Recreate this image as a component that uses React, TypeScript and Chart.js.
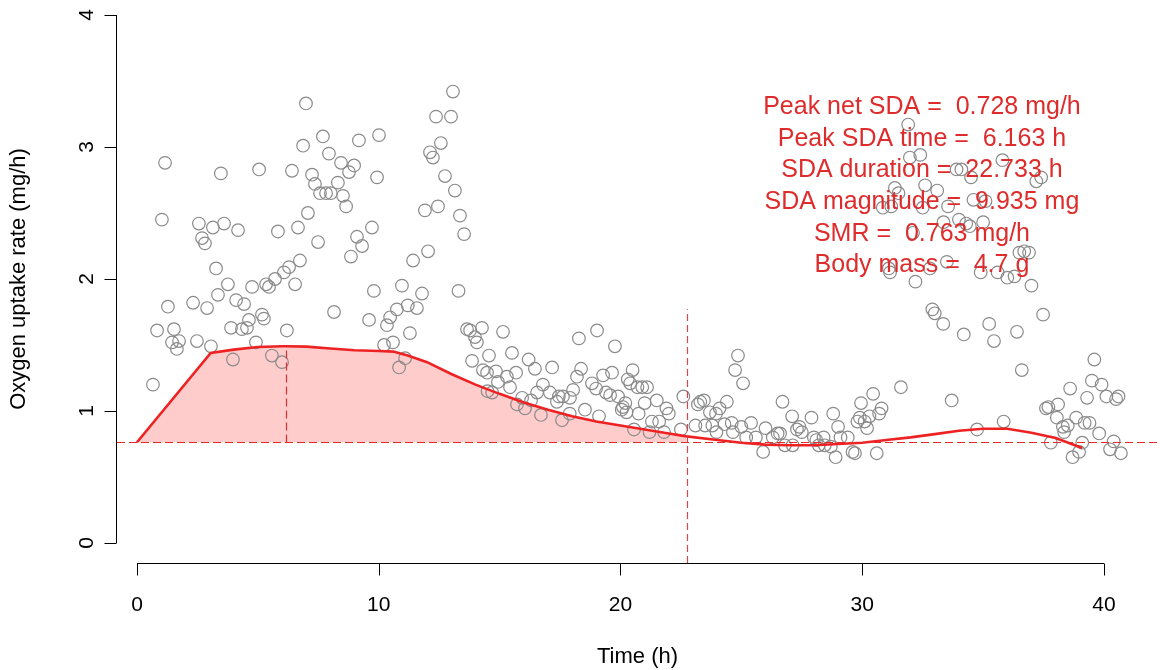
import React, { useEffect, useRef } from "react";
import { Chart, registerables } from "chart.js";

Chart.register(...registerables);

// Observed oxygen uptake (time in h, rate in mg/h)
const timeH = [
  0.66, 0.83, 1.03, 1.16, 1.28, 1.45, 1.53, 1.65, 1.74, 2.32, 2.48, 2.56, 2.69, 2.81, 2.9, 3.06, 3.14, 3.27, 3.35, 3.47,
  3.6, 3.76, 3.89, 3.97, 4.1, 4.18, 4.34, 4.43, 4.55, 4.63, 4.76, 4.92, 5.05, 5.17, 5.25, 5.34, 5.46, 5.58, 5.71, 5.83,
  6.0, 6.08, 6.2, 6.29, 6.41, 6.54, 6.66, 6.74, 6.87, 6.99, 7.07, 7.24, 7.36, 7.49, 7.57, 7.69, 7.82, 7.94, 8.02, 8.15,
  8.31, 8.44, 8.52, 8.65, 8.77, 8.85, 8.98, 9.1, 9.18, 9.31, 9.6, 9.72, 9.8, 9.93, 10.01, 10.22, 10.34, 10.47, 10.59, 10.75,
  10.84, 10.96, 11.09, 11.2, 11.29, 11.42, 11.58, 11.79, 11.91, 12.04, 12.12, 12.24, 12.37, 12.45, 12.57, 12.74, 12.99, 13.07, 13.15, 13.3,
  13.36, 13.53, 13.65, 13.78, 13.86, 13.98, 14.06, 14.27, 14.31, 14.48, 14.5, 14.56, 14.69, 14.85, 14.93, 15.14, 15.3, 15.43, 15.51, 15.68,
  15.72, 15.93, 16.05, 16.2, 16.3, 16.46, 16.55, 16.71, 16.79, 17.08, 17.17, 17.37, 17.45, 17.58, 17.62, 17.9, 17.91, 18.04, 18.2, 18.28,
  18.37, 18.53, 18.82, 18.99, 19.03, 19.11, 19.28, 19.4, 19.57, 19.65, 19.77, 19.9, 20.05, 20.1, 20.2, 20.25, 20.3, 20.4, 20.5, 20.56,
  20.7, 20.75, 20.9, 21.0, 21.1, 21.2, 21.3, 21.5, 21.6, 21.8, 21.9, 22.0, 22.5, 22.6, 23.1, 23.2, 23.3, 23.45, 23.5, 23.7,
  23.8, 23.95, 23.97, 24.1, 24.3, 24.4, 24.6, 24.65, 24.74, 24.86, 25.0, 25.07, 25.2, 25.4, 25.6, 25.9, 26.0, 26.3, 26.5, 26.6,
  26.7, 26.8, 27.1, 27.12, 27.3, 27.4, 27.5, 27.9, 28.0, 28.1, 28.2, 28.4, 28.45, 28.7, 28.8, 28.9, 29.0, 29.1, 29.4, 29.6,
  29.7, 29.8, 29.9, 29.95, 30.1, 30.2, 30.3, 30.45, 30.6, 30.7, 30.8, 30.85, 31.1, 31.15, 31.2, 31.35, 31.5, 31.6, 31.9, 31.97,
  32.1, 32.2, 32.4, 32.5, 32.6, 32.8, 32.9, 33.0, 33.1, 33.35, 33.36, 33.5, 33.55, 33.7, 33.9, 34.0, 34.1, 34.2, 34.3, 34.45,
  34.5, 34.6, 34.75, 34.9, 35.0, 35.1, 35.25, 35.45, 35.6, 35.8, 35.85, 36.0, 36.3, 36.4, 36.5, 36.6, 36.7, 36.9, 37.0, 37.2,
  37.4, 37.48, 37.6, 37.7, 37.8, 38.05, 38.1, 38.3, 38.35, 38.5, 38.6, 38.7, 38.85, 38.97, 39.1, 39.2, 39.3, 39.4, 39.5, 39.6,
  39.8, 39.9, 40.1, 40.25, 40.4, 40.5, 40.6, 40.7,
];
const mo2 = [
  1.2, 1.61, 2.45, 2.88, 1.79, 1.52, 1.62, 1.47, 1.53, 1.82, 1.53, 2.42, 2.31, 2.27, 1.78, 1.49, 2.39, 2.08, 1.88, 2.8,
  2.42, 1.96, 1.63, 1.39, 1.84, 2.37, 1.62, 1.81, 1.63, 1.69, 1.94, 1.52, 2.83, 1.73, 1.7, 1.96, 1.94, 1.42, 2.0, 2.36,
  1.37, 2.05, 1.61, 2.09, 2.82, 1.96, 2.39, 2.14, 3.01, 3.33, 2.5, 2.79, 2.72, 2.28, 2.65, 3.08, 2.65, 2.95, 2.65, 1.75,
  2.73, 2.88, 2.63, 2.55, 2.81, 2.17, 2.86, 2.32, 3.05, 2.25, 1.69, 2.39, 1.91, 2.77, 3.09, 1.5, 1.65, 1.71, 1.52, 1.77,
  1.33, 1.95, 1.4, 1.8, 1.59, 2.14, 1.78, 1.89, 2.52, 2.21, 2.96, 2.92, 3.23, 2.55, 3.03, 2.78, 3.23, 3.42, 2.67, 1.91,
  2.48, 2.34, 1.62, 1.61, 1.38, 1.56, 1.52, 1.63, 1.31, 1.29, 1.15, 1.42, 1.14, 1.3, 1.22, 1.6, 1.26, 1.18, 1.44, 1.29,
  1.05, 1.1, 1.02, 1.39, 1.08, 1.32, 1.14, 0.97, 1.2, 1.14, 1.33, 1.07, 1.11, 0.93, 1.11, 0.98, 1.1, 1.16, 1.26, 1.55,
  1.32, 1.01, 1.21, 1.17, 1.61, 0.96, 1.27, 1.14, 1.12, 1.29, 1.49, 1.11, 1.01, 1.03, 1.06, 0.99, 1.24, 1.21, 1.31, 0.86,
  1.18, 0.98, 1.18, 1.06, 1.18, 0.84, 0.92, 1.08, 0.92, 0.84, 1.02, 0.98, 0.86, 1.11, 0.89, 1.05, 1.07, 1.08, 0.89, 0.99,
  0.89, 0.98, 0.84, 1.02, 0.9, 1.07, 0.91, 0.84, 1.31, 1.42, 0.88, 1.21, 0.8, 0.91, 0.8, 0.69, 0.87, 0.8, 0.83, 0.83,
  1.07, 0.74, 0.96, 0.74, 0.86, 0.88, 0.84, 0.95, 0.8, 0.78, 0.74, 0.8, 0.74, 0.73, 0.98, 0.65, 0.88, 0.8, 0.8, 0.69,
  0.68, 0.92, 0.95, 1.06, 0.92, 0.87, 0.96, 1.13, 0.68, 0.98, 1.02, 2.54, 2.08, 2.05, 2.55, 2.69, 2.65, 1.18, 3.17, 2.92,
  2.35, 1.98, 2.94, 2.54, 2.71, 2.08, 1.77, 1.74, 2.67, 1.66, 2.43, 2.13, 2.55, 1.08, 2.83, 2.45, 2.83, 1.58, 2.42, 2.4,
  2.77, 2.6, 0.86, 2.05, 2.43, 2.59, 1.66, 1.53, 2.05, 2.9, 0.92, 2.01, 2.02, 1.6, 2.2, 1.31, 2.21, 2.2, 1.95, 2.74,
  2.77, 1.73, 1.02, 1.03, 0.76, 0.95, 1.05, 0.88, 0.84, 0.89, 1.17, 0.65, 0.95, 0.69, 0.76, 0.91, 1.1, 0.91, 1.23, 1.39,
  0.83, 1.2, 1.11, 0.71, 0.77, 1.09, 1.11, 0.68,
];

// Fitted SDA curve
const curveTime = [
  0, 3.05, 4, 5, 6, 6.163, 7, 8, 9, 10, 10.6, 11.2, 12, 13, 14, 15, 16, 17, 18, 19,
  20, 21, 22, 22.733, 24, 25, 26, 27, 28, 29, 30, 31, 32, 33, 34, 35, 36, 37, 38, 39.1,
];
const curveRate = [
  0.763, 1.44, 1.465, 1.485, 1.49, 1.491, 1.488, 1.474, 1.46, 1.455, 1.45, 1.42, 1.37, 1.28, 1.2, 1.13, 1.065, 1.01, 0.96, 0.92,
  0.89, 0.86, 0.83, 0.808, 0.78, 0.76, 0.745, 0.74, 0.74, 0.75, 0.76, 0.78, 0.8, 0.825, 0.85, 0.865, 0.865, 0.835, 0.795, 0.72,
];

const xTicks = [0, 10, 20, 30, 40];
const yTicks = [0, 1, 2, 3, 4];

const SMR = 0.763;
const peakTime = 6.163;
const peakRate = 1.491;
const duration = 22.733;
const durationLineTop = 1.77;

const infoLines = [
  "Peak net SDA =  0.728 mg/h",
  "Peak SDA time =  6.163 h",
  "SDA duration =  22.733 h",
  "SDA magnitude =  9.935 mg",
  "SMR =  0.763 mg/h",
  "Body mass =  4.7 g",
];
const infoX = 32.47;
const infoY = 3.3;

const FONT = "Arial, 'Liberation Sans', sans-serif";

export default function App() {
  const ref = useRef<HTMLCanvasElement>(null);

  useEffect(() => {
    document.body.style.margin = "0";
    const canvas = ref.current!;
    const pts = timeH.map((x, i) => ({ x, y: mo2[i] }));
    const curve = curveTime.map((x, i) => ({ x, y: curveRate[i] }));
    const fillPts = curve.filter((p) => p.x <= duration);

    const decor = {
      id: "rDecor",
      afterDatasetsDraw(chart: any) {
        const { ctx, chartArea, scales } = chart;
        const x = scales.x;
        const y = scales.y;
        ctx.save();
        ctx.beginPath();
        ctx.rect(chartArea.left, chartArea.top, chartArea.right - chartArea.left, chartArea.bottom - chartArea.top);
        ctx.clip();
        const ys = Math.round(y.getPixelForValue(SMR)) + 0.5;
        ctx.strokeStyle = "#E42A2A";
        ctx.lineWidth = 1.2;
        ctx.setLineDash([8, 4]);
        ctx.beginPath();
        ctx.moveTo(chartArea.left, ys);
        ctx.lineTo(chartArea.right, ys);
        ctx.stroke();
        const xp = Math.round(x.getPixelForValue(peakTime)) + 0.5;
        ctx.strokeStyle = "#D83030";
        ctx.lineWidth = 1.2;
        ctx.beginPath();
        ctx.moveTo(xp, ys);
        ctx.lineTo(xp, y.getPixelForValue(peakRate));
        ctx.stroke();
        const xd = Math.round(x.getPixelForValue(duration)) + 0.5;
        ctx.strokeStyle = "#D04848";
        ctx.setLineDash([7, 4]);
        ctx.beginPath();
        ctx.moveTo(xd, chartArea.bottom);
        ctx.lineTo(xd, y.getPixelForValue(durationLineTop));
        ctx.stroke();
        ctx.setLineDash([]);
        ctx.fillStyle = "#DE2C2C";
        ctx.font = `25px ${FONT}`;
        ctx.textAlign = "center";
        ctx.textBaseline = "middle";
        const tx = x.getPixelForValue(infoX);
        const ty = y.getPixelForValue(infoY);
        infoLines.forEach((s, i) => ctx.fillText(s, tx, ty + i * 31.6));
        ctx.restore();
      },
      afterDraw(chart: any) {
        const { ctx, chartArea, scales } = chart;
        const x = scales.x;
        const y = scales.y;
        ctx.save();
        ctx.strokeStyle = "#000";
        ctx.fillStyle = "#000";
        ctx.lineWidth = 1;
        // y axis
        const ax = chartArea.left - 0.5;
        ctx.beginPath();
        ctx.moveTo(ax, y.getPixelForValue(yTicks[0]));
        ctx.lineTo(ax, y.getPixelForValue(yTicks[yTicks.length - 1]));
        yTicks.forEach((t) => {
          const py = Math.round(y.getPixelForValue(t)) + 0.5;
          ctx.moveTo(ax, py);
          ctx.lineTo(ax - 12, py);
        });
        ctx.stroke();
        ctx.font = `21px ${FONT}`;
        ctx.textAlign = "center";
        ctx.textBaseline = "middle";
        yTicks.forEach((t) => {
          const py = y.getPixelForValue(t);
          ctx.save();
          ctx.translate(87, py);
          ctx.rotate(-Math.PI / 2);
          ctx.fillText(String(t), 0, 0);
          ctx.restore();
        });
        // x axis
        const ay = chartArea.bottom + 0.5;
        ctx.beginPath();
        ctx.moveTo(x.getPixelForValue(xTicks[0]), ay);
        ctx.lineTo(x.getPixelForValue(xTicks[xTicks.length - 1]), ay);
        xTicks.forEach((t) => {
          const px = Math.round(x.getPixelForValue(t)) + 0.5;
          ctx.moveTo(px, ay);
          ctx.lineTo(px, ay + 12);
        });
        ctx.stroke();
        xTicks.forEach((t) => {
          ctx.fillText(String(t), x.getPixelForValue(t), 605);
        });
        // titles, centred on the plot region as in base R
        ctx.font = `22px ${FONT}`;
        ctx.fillText("Time (h)", (chartArea.left + chartArea.right) / 2, 657);
        ctx.save();
        ctx.translate(19, y.getPixelForValue(2.0));
        ctx.rotate(-Math.PI / 2);
        ctx.fillText("Oxygen uptake rate (mg/h)", 0, 0);
        ctx.restore();
        ctx.restore();
      },
    };

    const chart = new Chart(canvas, {
      type: "scatter",
      data: {
        datasets: [
          {
            type: "line",
            data: fillPts,
            borderWidth: 0,
            pointRadius: 0,
            fill: { value: SMR },
            backgroundColor: "#FFCCCC",
            order: 3,
            tension: 0,
          } as any,
          {
            type: "scatter",
            data: pts,
            pointRadius: 6.3,
            borderColor: "#8a8a8a",
            backgroundColor: "rgba(0,0,0,0)",
            borderWidth: 1.2,
            order: 2,
          } as any,
          {
            type: "line",
            data: curve,
            borderColor: "#EE2222",
            borderWidth: 2.6,
            pointRadius: 0,
            fill: false,
            order: 1,
            tension: 0,
          } as any,
        ],
      },
      options: {
        responsive: false,
        animation: false,
        events: [],
        layout: { autoPadding: false, padding: { left: 117, right: 2, top: 0, bottom: 107 } },
        scales: {
          x: { type: "linear", min: -0.8273, max: 42.234, display: false },
          y: { type: "linear", min: -0.1515, max: 4.1136, display: false },
        },
        plugins: { legend: { display: false }, tooltip: { enabled: false } },
      },
      plugins: [decor],
    });
    return () => chart.destroy();
  }, []);

  return <canvas ref={ref} width={1160} height={670} style={{ display: "block" }} />;
}
